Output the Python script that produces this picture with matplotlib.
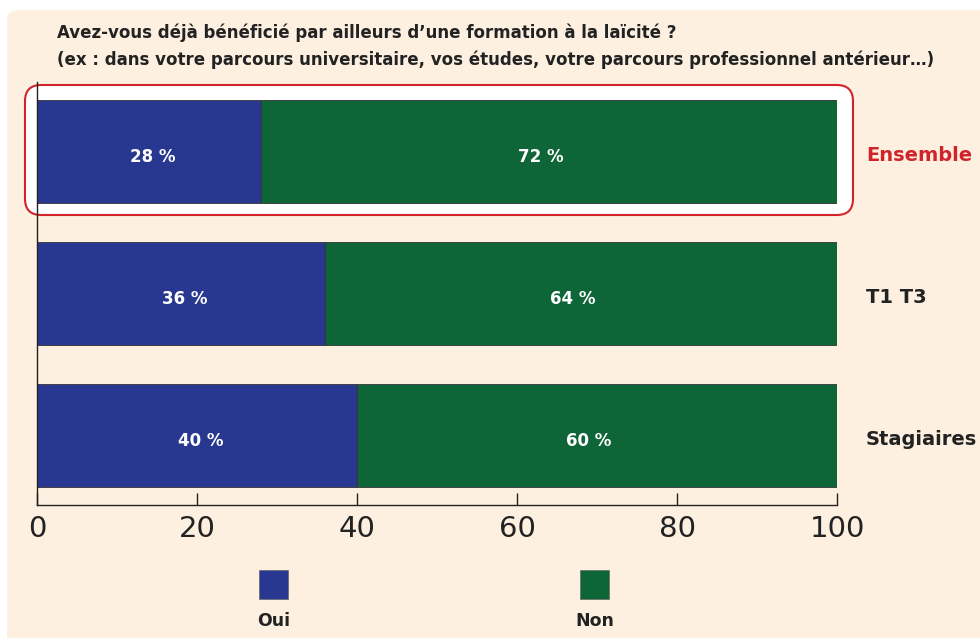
import matplotlib
matplotlib.use("Agg")
import matplotlib.pyplot as plt
from matplotlib.patches import FancyBboxPatch, Rectangle
import numpy as np

categories = ["Ensemble", "T1 T3", "Stagiaires"]
oui = [28, 36, 40]
non = [72, 64, 60]
series_names = ["Oui", "Non"]
ticks = [0, 20, 40, 60, 80, 100]
title1 = "Avez-vous déjà bénéficié par ailleurs d\u2019une formation à la laïcité ?"
title2 = "(ex : dans votre parcours universitaire, vos études, votre parcours professionnel antérieur\u2026)"

BLUE = "#283891"
GREEN = "#0E6537"
RED = "#D2232A"
BG = "#FDF0E1"
W, H = 980, 638

fig = plt.figure(figsize=(9.8, 6.38), dpi=100)
fig.patch.set_facecolor("white")

def fx(px):
    return px / W

def fy(py):
    return 1 - py / H

# beige panel
panel = FancyBboxPatch((fx(7), fy(660)), fx(1000), (660 - 10) / H,
                       boxstyle="round,pad=0,rounding_size=0.015",
                       transform=fig.transFigure, facecolor=BG, edgecolor="none", zorder=-5)
fig.patches.append(panel)

# highlight box for Ensemble
box = FancyBboxPatch((fx(25), fy(215)), fx(853 - 25), (215 - 85) / H,
                     boxstyle="round,pad=0,rounding_size=0.0165",
                     mutation_aspect=W / H,
                     transform=fig.transFigure, facecolor="white", edgecolor=RED,
                     linewidth=1.5, zorder=-4)
fig.patches.append(box)

ax = fig.add_axes([fx(37), fy(505), fx(800), (505 - 82) / H])
ax.set_zorder(2)
ax.patch.set_alpha(0)

y = np.arange(len(categories))
bh = 103 / 142
ax.barh(y, oui, height=bh, color=BLUE, edgecolor="#333333", linewidth=0.6)
ax.barh(y, non, left=oui, height=bh, color=GREEN, edgecolor="#333333", linewidth=0.6)

for i in range(len(categories)):
    ax.text(oui[i] / 2 + 0.5, y[i] + 0.04, f"{oui[i]} %", color="white", fontsize=12,
            fontweight="bold", ha="center", va="center")
    ax.text(oui[i] + non[i] / 2 - 1, y[i] + 0.04, f"{non[i]} %", color="white", fontsize=12,
            fontweight="bold", ha="center", va="center")
    ax.text(103.6, y[i] + 0.03, categories[i], color=RED if i == 0 else "#222222",
            fontsize=14, fontweight="bold", ha="left", va="center", clip_on=False)

ax.set_xlim(0, 100)
ax.set_ylim(2.49, -0.49)
ax.set_xticks(ticks)
ax.set_xticklabels([str(t) for t in ticks])
ax.set_yticks([])
for s in ["top", "right"]:
    ax.spines[s].set_visible(False)
ax.spines["left"].set_color("#222222")
ax.spines["bottom"].set_color("#222222")
ax.spines["left"].set_linewidth(1)
ax.spines["bottom"].set_linewidth(1)
ax.tick_params(axis="x", direction="in", length=9, width=1, color="#222222",
               labelsize=21, labelcolor="#222222", pad=7)

# title
fig.text(fx(57), fy(33), title1, fontsize=12, fontweight="bold", color="#222222",
         ha="left", va="center")
fig.text(fx(57), fy(60), title2, fontsize=12, fontweight="bold", color="#222222",
         ha="left", va="center")

# legend
colors = [BLUE, GREEN]
lx = [259, 580]
for name, c, x0 in zip(series_names, colors, lx):
    fig.patches.append(Rectangle((fx(x0), fy(599)), fx(29), 29 / H, transform=fig.transFigure,
                                 facecolor=c, edgecolor="#666666", linewidth=0.5))
    fig.text(fx(x0 + 14.5), fy(621), name, fontsize=12.5, fontweight="bold", color="#222222",
             ha="center", va="center")

fig.savefig("out.png", dpi=100, facecolor=fig.get_facecolor())
